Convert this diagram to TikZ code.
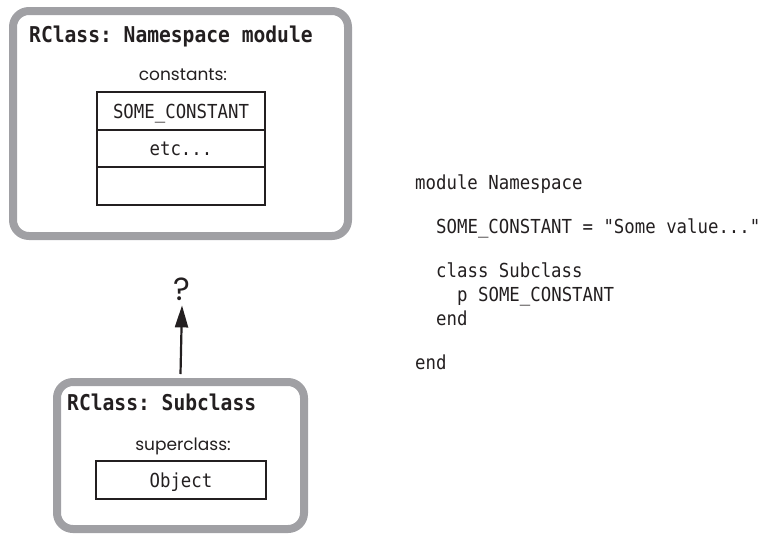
\documentclass[tikz,border=0pt]{standalone}
\usepackage{fontspec}
\setmainfont{Poppins}
\setmonofont{DejaVu Sans Mono}[FakeStretch=0.9]
\usetikzlibrary{positioning,arrows.meta}
\definecolor{boxgray}{RGB}{160,160,164}
\definecolor{ink}{RGB}{35,31,32}
\tikzset{
	rclass/.style={draw=boxgray, line width=8pt, rounded corners=16pt, inner sep=0pt},
	cell/.style={draw=ink, text=ink, line width=2.2pt, minimum width=168pt, minimum height=37.5pt, inner sep=0pt, outer sep=0pt, text height=14pt, text depth=0pt, font=\ttfamily\fontsize{19.3}{22}\selectfont},
	title/.style={anchor=base west, inner sep=0pt, text=ink, font=\ttfamily\bfseries\fontsize{21.8}{25}\selectfont},
	field/.style={anchor=base, inner sep=0pt, text=ink, font=\fontsize{17}{20}\selectfont},
	code/.style={anchor=base west, inner sep=0pt, text=ink, font=\ttfamily\fontsize{19.3}{22}\selectfont},
}
\begin{document}
\begin{tikzpicture}[x=1pt,y=-1pt]
	\useasboundingbox (0,0) rectangle (765,533);
	% the two RClass boxes
	\node[rclass, minimum width=335pt, minimum height=225pt] (ns) at (180.5,123.5) {};
	\node[rclass, minimum width=247pt, minimum height=147pt] (sub) at (180.5,455.5) {};
	
	\node[title] (nstitle) at (29,42) {RClass: Namespace module};
	\node[field] (consts) at (183,80) {constants:};
	\node[cell] (c1) at (181,111) {SOME\_CONSTANT};
	\node[cell, below=0pt of c1] (c2) {etc...};
	\node[cell, below=0pt of c2] (c3) {};
	
	\node[title] (subtitle) at (67,410) {RClass: Subclass};
	\node[field] (super) at (183,450) {superclass:};
	\node[cell, minimum width=170pt, minimum height=38pt] (obj) at (181,480) {Object};
	
	% lookup arrow
	\node[anchor=base, inner sep=0pt, text=ink, font=\fontsize{32}{34}\selectfont] (q) at (182,300) {?};
	\draw[-{Triangle[length=22pt,width=13pt]}, ink, line width=2.2pt] ([yshift=4pt]sub.north) -- ([yshift=-5pt]q.south);
	
	% ruby source
	\node[code] (l1) at (415,189) {module Namespace};
	\node[code] (l2) at (436,233) {SOME\_CONSTANT = "Some value..."};
	\node[code] (l3) at (436,277) {class Subclass};
	\node[code] (l4) at (457,301) {p SOME\_CONSTANT};
	\node[code] (l5) at (436,325) {end};
	\node[code] (l6) at (415,369) {end};
\end{tikzpicture}
\end{document}
